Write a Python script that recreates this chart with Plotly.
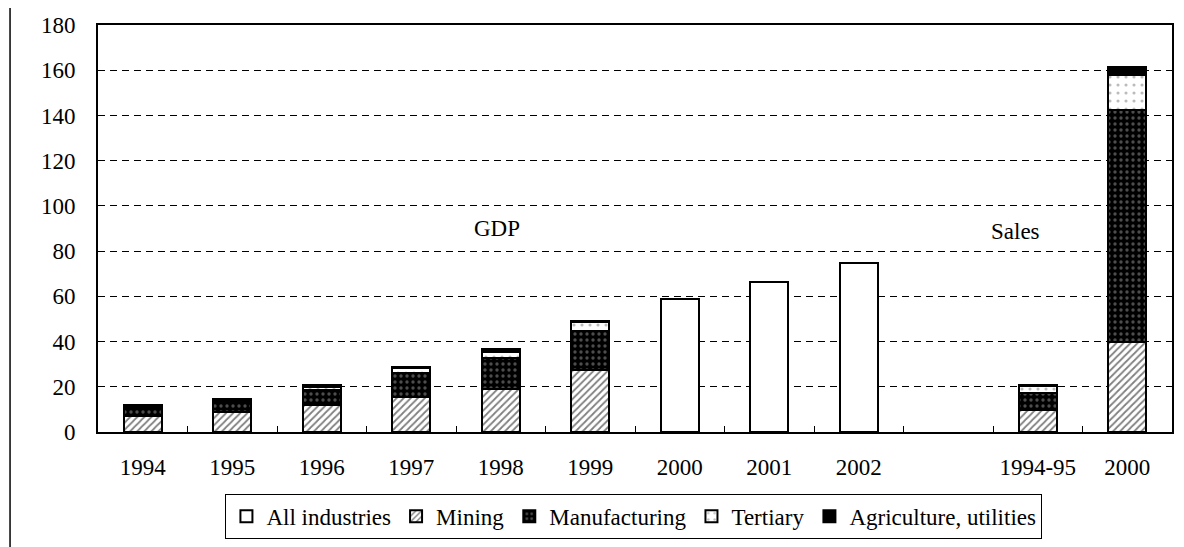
import plotly.graph_objects as go

# ---- data ----
x_ids = ["g1994", "g1995", "g1996", "g1997", "g1998", "g1999", "g2000", "g2001", "g2002",
         "blank", "s1994-95", "s2000"]
x_labels = ["1994", "1995", "1996", "1997", "1998", "1999", "2000", "2001", "2002",
            "", "1994-95", "2000"]

all_ind_x = ["g2000", "g2001", "g2002"]
all_industries = [58.8, 66.3, 74.7]

seg_x = ["g1994", "g1995", "g1996", "g1997", "g1998", "g1999", "s1994-95", "s2000"]
mining = [7.0, 8.8, 11.9, 15.6, 18.9, 27.4, 9.7, 39.9]
manufacturing = [4.2, 4.3, 6.7, 10.4, 13.7, 17.3, 7.5, 102.5]
tertiary = [0.4, 1.0, 1.5, 2.4, 2.9, 3.8, 3.0, 15.5]
agri_utilities = [0.5, 0.6, 0.6, 0.5, 1.1, 0.6, 0.6, 3.5]

y_ticks = [0, 20, 40, 60, 80, 100, 120, 140, 160, 180]

FONT = "Liberation Serif"
FS = 23
BW = 0.42
line = dict(color="black", width=2)

fig = go.Figure()
fig.add_trace(go.Bar(name="All industries", x=all_ind_x, y=all_industries, width=BW,
                     marker=dict(color="white", line=line)))
fig.add_trace(go.Bar(name="Mining", x=seg_x, y=mining, width=BW,
                     marker=dict(color="white", line=line,
                                 pattern=dict(shape="/", fgcolor="black", bgcolor="white",
                                              size=5, solidity=0.35))))
fig.add_trace(go.Bar(name="Manufacturing", x=seg_x, y=manufacturing, width=BW,
                     marker=dict(color="black", line=line,
                                 pattern=dict(shape=".", fgcolor="#9a9a9a", bgcolor="black",
                                              size=6, solidity=0.25))))
fig.add_trace(go.Bar(name="Tertiary", x=seg_x, y=tertiary, width=BW,
                     marker=dict(color="white", line=line,
                                 pattern=dict(shape=".", fgcolor="#777777", bgcolor="white",
                                              size=8, solidity=0.12))))
fig.add_trace(go.Bar(name="Agriculture, utilities", x=seg_x, y=agri_utilities, width=BW,
                     marker=dict(color="black", line=line)))

fig.update_layout(
    barmode="stack",
    width=1176, height=539,
    margin=dict(l=90, r=12, t=17, b=115, autoexpand=False),
    paper_bgcolor="white", plot_bgcolor="white",
    font=dict(family=FONT, size=FS, color="black"),
    showlegend=True,
    legend=dict(orientation="h", x=0.499, xanchor="center", y=-0.152, yanchor="top",
                bordercolor="black", borderwidth=1, font=dict(family=FONT, size=FS),
                traceorder="normal", itemwidth=30, tracegroupgap=0),
    xaxis=dict(type="category", categoryorder="array", categoryarray=x_ids,
               tickmode="array", tickvals=x_ids, ticktext=x_labels, tickangle=0,
               tickson="boundaries", ticks="inside", ticklen=6, tickcolor="black",
               tickwidth=1, showline=True, linecolor="black", linewidth=2, mirror=True,
               showgrid=False, ticklabelstandoff=13, range=[-0.5, 11.5],
               tickfont=dict(family=FONT, size=FS)),
    yaxis=dict(range=[0, 180], tickvals=y_ticks, showline=True, linecolor="black",
               linewidth=2, mirror=True, ticks="", showgrid=True, gridcolor="black",
               gridwidth=1, griddash="7px,5px", zeroline=False, ticklabelstandoff=16,
               tickfont=dict(family=FONT, size=FS)),
    annotations=[
        dict(text="GDP", x=0.3715, y=0.4988, xref="paper", yref="paper",
             showarrow=False, font=dict(family=FONT, size=FS)),
        dict(text="Sales", x=0.8787, y=0.492, xref="paper", yref="paper",
             showarrow=False, font=dict(family=FONT, size=FS)),
    ],
    shapes=[dict(type="line", xref="paper", yref="paper", x0=-0.0819, x1=-0.0819,
                 y0=-0.2826, y1=1.1, line=dict(color="black", width=1.5))],
)

fig.write_html("out.html")
